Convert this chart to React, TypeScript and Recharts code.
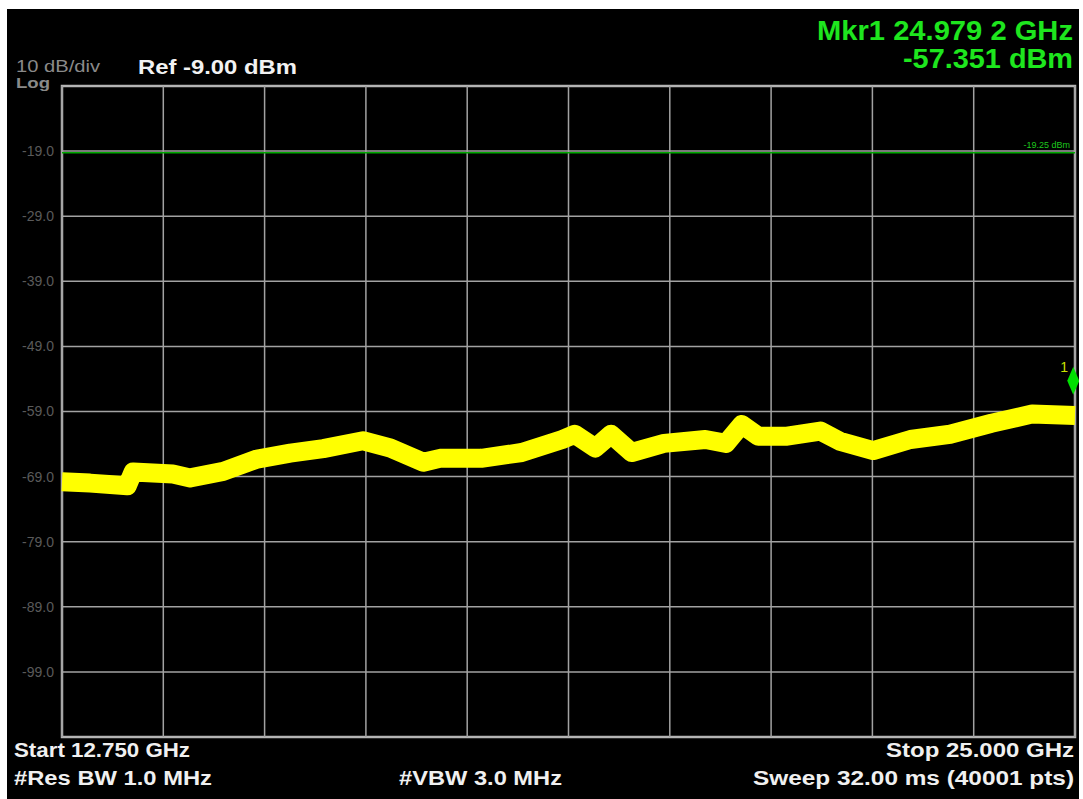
import React from 'react';
import { LineChart, Line, XAxis, YAxis, CartesianGrid, ReferenceLine, ReferenceArea, ReferenceDot } from 'recharts';

// trace, frequency in GHz, level in dBm
const freqGHz = [
  12.75, 13.09, 13.54, 13.61, 14.09, 14.3, 14.7, 15.11, 15.51, 15.91, 16.39, 16.72,
  17.12, 17.32, 17.82, 18.31, 18.8, 18.95, 19.2, 19.39, 19.64, 20.03, 20.53, 20.78,
  20.97, 21.17, 21.52, 21.92, 22.16, 22.56, 23.01, 23.49, 23.99, 24.48, 25.0,
];
const traceDbm = [
  -69.8, -70.0, -70.4, -68.3, -68.6, -69.2, -68.2, -66.3, -65.4, -64.7, -63.5, -64.6,
  -66.8, -66.2, -66.2, -65.3, -63.3, -62.5, -64.6, -62.5, -65.3, -63.9, -63.3, -63.9,
  -61.0, -62.8, -62.8, -62.0, -63.6, -65.0, -63.3, -62.5, -60.8, -59.4, -59.6,
];

const xTicks = [12.75, 13.975, 15.2, 16.425, 17.65, 18.875, 20.1, 21.325, 22.55, 23.775, 25.0];
const yTicks = [-9, -19, -29, -39, -49, -59, -69, -79, -89, -99, -109];

const refLevel = -9;
const bottomLevel = -109;
const displayLine = -19.25;
const markerFreq = 24.979;
const markerDbm = -57.351;

const data = freqGHz.map((f, i) => ({ f, v: traceDbm[i] }));

const font = '"Liberation Sans", Arial, sans-serif';

const MarkerShape = (props: any) => {
  const { cx, cy } = props;
  if (cx == null || cy == null) return null;
  return (
    <g>
      <polygon
        points={`${cx},${cy - 34} ${cx + 6},${cy - 20} ${cx},${cy - 6} ${cx - 6},${cy - 20}`}
        fill="#00e000"
      />
      <text x={cx - 13} y={cy - 29} fill="#c8e000" fontSize={14} fontFamily={font}>1</text>
    </g>
  );
};

type Txt = { s: string; x: number; y: number; w: number; size: number; fill: string; bold?: boolean };

const labels: Txt[] = [
  { s: '10 dB/div', x: 16, y: 72, w: 84, size: 16, fill: '#8a8a8a' },
  { s: 'Log', x: 16, y: 88, w: 34, size: 15, fill: '#8a8a8a', bold: true },
  { s: 'Ref -9.00 dBm', x: 138, y: 74, w: 159, size: 21, fill: '#f2f2f2', bold: true },
  { s: 'Mkr1 24.979 2 GHz', x: 817, y: 40, w: 256, size: 27, fill: '#1ee61e', bold: true },
  { s: '-57.351 dBm', x: 903, y: 68, w: 170, size: 27, fill: '#1ee61e', bold: true },
  { s: 'Start 12.750 GHz', x: 14, y: 757, w: 176, size: 20, fill: '#f0f0f0', bold: true },
  { s: '#Res BW 1.0 MHz', x: 14, y: 785, w: 198, size: 20, fill: '#f0f0f0', bold: true },
  { s: '#VBW 3.0 MHz', x: 399, y: 785, w: 163, size: 20, fill: '#f0f0f0', bold: true },
  { s: 'Stop 25.000 GHz', x: 886, y: 757, w: 188, size: 20, fill: '#f0f0f0', bold: true },
  { s: 'Sweep  32.00 ms (40001 pts)', x: 753, y: 785, w: 321, size: 20, fill: '#f0f0f0', bold: true },
];

export default function App() {
  return (
    <div style={{ position: 'absolute', left: 0, top: 0, width: 1083, height: 799, background: '#fff' }}>
      <div style={{ position: 'absolute', left: 7, top: 9, width: 1072, height: 790, background: '#000' }}>
        <LineChart width={1072} height={790} data={data} margin={{ top: 77, right: 4, bottom: 62, left: 0 }}>
          <CartesianGrid stroke="#a2a2a2" strokeWidth={1.5} vertical={false} />
          <XAxis
            dataKey="f"
            type="number"
            domain={[12.75, 25]}
            ticks={xTicks}
            height={0}
            tick={false}
            axisLine={false}
            tickLine={false}
          />
          <YAxis
            type="number"
            domain={[bottomLevel, refLevel]}
            ticks={yTicks}
            width={55}
            axisLine={false}
            tickLine={false}
            tickFormatter={(v: number) => (v === refLevel || v === bottomLevel ? '' : v.toFixed(1))}
            tick={{ fill: '#5a5a5a', fontSize: 14, fontFamily: font }}
          />
          {xTicks.map((t) => (
            <ReferenceLine key={t} x={t} stroke="#a2a2a2" strokeWidth={1.5} />
          ))}
          <ReferenceArea
            x1={12.75}
            x2={25}
            y1={bottomLevel}
            y2={refLevel}
            fill="none"
            stroke="#b4b4b4"
            strokeWidth={2.5}
          />
          <ReferenceLine
            y={displayLine}
            stroke="#00a800"
            strokeWidth={1.5}
            label={{ value: '-19.25 dBm', position: 'insideBottomRight', fill: '#1ec81e', fontSize: 9, fontFamily: font }}
          />
          <Line
            type="linear"
            dataKey="v"
            stroke="#ffff00"
            strokeWidth={19}
            strokeLinejoin="round"
            dot={false}
            isAnimationActive={false}
          />
          <ReferenceDot x={markerFreq} y={markerDbm} ifOverflow="visible" shape={MarkerShape} />
        </LineChart>
      </div>
      <svg
        width={1083}
        height={799}
        style={{ position: 'absolute', left: 0, top: 0, pointerEvents: 'none' }}
      >
        {labels.map((t) => (
          <text
            key={t.s}
            x={t.x}
            y={t.y}
            fill={t.fill}
            fontSize={t.size}
            fontWeight={t.bold ? 'bold' : 'normal'}
            fontFamily={font}
            textLength={t.w}
            lengthAdjust="spacingAndGlyphs"
          >
            {t.s}
          </text>
        ))}
      </svg>
    </div>
  );
}
